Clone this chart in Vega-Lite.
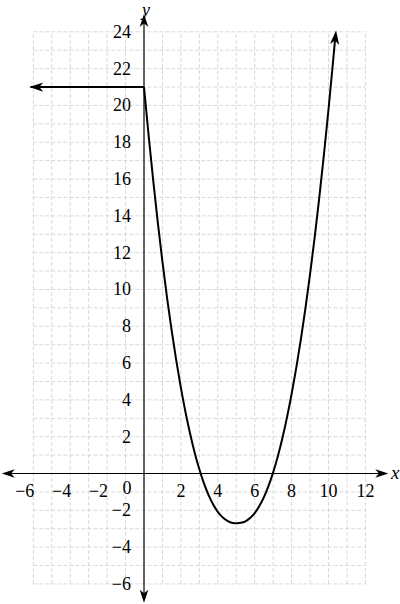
{
  "$schema": "https://vega.github.io/schema/vega-lite/v6.json",
  "width": 400,
  "height": 604,
  "padding": 0,
  "autosize": "none",
  "background": "white",
  "config": {"view": {"stroke": null}, "text": {"font": "Liberation Serif, Times New Roman, serif"}},
  "datasets": {
    "one": [{}],
    "gx": [{"v":-6},{"v":-5},{"v":-4},{"v":-3},{"v":-2},{"v":-1},{"v":0},{"v":1},{"v":2},{"v":3},{"v":4},{"v":5},{"v":6},{"v":7},{"v":8},{"v":9},{"v":10},{"v":11},{"v":12}],
    "gy": [{"v":-6},{"v":-5},{"v":-4},{"v":-3},{"v":-2},{"v":-1},{"v":0},{"v":1},{"v":2},{"v":3},{"v":4},{"v":5},{"v":6},{"v":7},{"v":8},{"v":9},{"v":10},{"v":11},{"v":12},{"v":13},{"v":14},{"v":15},{"v":16},{"v":17},{"v":18},{"v":19},{"v":20},{"v":21},{"v":22},{"v":23},{"v":24}],
    "flat": [{"x":-6.15,"y":21},{"x":0,"y":21}],
    "curve": [
      {"x":0,"y":21},{"x":0.25,"y":18.37},{"x":0.5,"y":15.91},{"x":0.75,"y":13.62},{"x":1,"y":11.5},{"x":1.25,"y":9.55},{"x":1.5,"y":7.76},{"x":1.75,"y":6.13},{"x":2,"y":4.65},{"x":2.25,"y":3.33},{"x":2.5,"y":2.16},{"x":2.75,"y":1.12},{"x":3,"y":0.23},{"x":3.25,"y":-0.54},{"x":3.5,"y":-1.17},{"x":3.75,"y":-1.68},{"x":4,"y":-2.08},{"x":4.25,"y":-2.37},{"x":4.5,"y":-2.56},{"x":4.75,"y":-2.67},{"x":5.05,"y":-2.7},{"x":5.25,"y":-2.68},{"x":5.5,"y":-2.6},{"x":5.75,"y":-2.42},{"x":6,"y":-2.15},{"x":6.25,"y":-1.77},{"x":6.5,"y":-1.28},{"x":6.75,"y":-0.67},{"x":7,"y":0.06},{"x":7.25,"y":0.93},{"x":7.5,"y":1.92},{"x":7.75,"y":3.05},{"x":8,"y":4.32},{"x":8.25,"y":5.73},{"x":8.5,"y":7.28},{"x":8.75,"y":8.98},{"x":9,"y":10.83},{"x":9.25,"y":12.83},{"x":9.5,"y":14.99},{"x":9.75,"y":17.31},{"x":10,"y":19.78},{"x":10.25,"y":22.42},{"x":10.38,"y":23.85}
    ],
    "xpos": [{"v":2,"label":"2"},{"v":4,"label":"4"},{"v":6,"label":"6"},{"v":8,"label":"8"},{"v":10,"label":"10"},{"v":12,"label":"12"}],
    "xneg": [{"v":-6,"label":"−6"},{"v":-4,"label":"−4"},{"v":-2,"label":"−2"}],
    "ylab": [{"v":24,"label":"24"},{"v":22,"label":"22"},{"v":20,"label":"20"},{"v":18,"label":"18"},{"v":16,"label":"16"},{"v":14,"label":"14"},{"v":12,"label":"12"},{"v":10,"label":"10"},{"v":8,"label":"8"},{"v":6,"label":"6"},{"v":4,"label":"4"},{"v":2,"label":"2"},{"v":-2,"label":"−2"},{"v":-4,"label":"−4"},{"v":-6,"label":"−6"}]
  },
  "layer": [
    {
      "data": {"name": "gx"},
      "mark": {"type": "rule", "color": "#d9d9d9", "strokeWidth": 1, "strokeDash": [4, 2]},
      "encoding": {
        "x": {"field": "v", "type": "quantitative", "scale": {"domain": [-7.805, 13.875], "nice": false, "zero": false}, "axis": null},
        "y": {"datum": -6, "type": "quantitative", "scale": {"domain": [-7.09, 25.73], "nice": false, "zero": false}, "axis": null},
        "y2": {"datum": 24}
      }
    },
    {
      "data": {"name": "gy"},
      "mark": {"type": "rule", "color": "#d9d9d9", "strokeWidth": 1, "strokeDash": [4, 2]},
      "encoding": {
        "y": {"field": "v", "type": "quantitative", "scale": {"domain": [-7.09, 25.73], "nice": false, "zero": false}, "axis": null},
        "x": {"datum": -6, "type": "quantitative", "scale": {"domain": [-7.805, 13.875], "nice": false, "zero": false}, "axis": null},
        "x2": {"datum": 12}
      }
    },
    {
      "data": {"name": "one"},
      "mark": {"type": "rule", "color": "black", "strokeWidth": 1.2},
      "encoding": {
        "y": {"datum": 0, "type": "quantitative", "scale": {"domain": [-7.09, 25.73], "nice": false, "zero": false}, "axis": null},
        "x": {"datum": -7.6, "type": "quantitative", "scale": {"domain": [-7.805, 13.875], "nice": false, "zero": false}, "axis": null},
        "x2": {"datum": 13.1}
      }
    },
    {
      "data": {"name": "one"},
      "mark": {"type": "rule", "color": "black", "strokeWidth": 1.2},
      "encoding": {
        "x": {"datum": 0, "type": "quantitative", "scale": {"domain": [-7.805, 13.875], "nice": false, "zero": false}, "axis": null},
        "y": {"datum": -6.9, "type": "quantitative", "scale": {"domain": [-7.09, 25.73], "nice": false, "zero": false}, "axis": null},
        "y2": {"datum": 24.8}
      }
    },
    {
      "data": {"name": "flat"},
      "mark": {"type": "line", "color": "black", "strokeWidth": 2},
      "encoding": {
        "x": {"field": "x", "type": "quantitative", "scale": {"domain": [-7.805, 13.875], "nice": false, "zero": false}, "axis": null},
        "y": {"field": "y", "type": "quantitative", "scale": {"domain": [-7.09, 25.73], "nice": false, "zero": false}, "axis": null}
      }
    },
    {
      "data": {"name": "curve"},
      "mark": {"type": "line", "color": "black", "strokeWidth": 2, "interpolate": "monotone"},
      "encoding": {
        "x": {"field": "x", "type": "quantitative", "scale": {"domain": [-7.805, 13.875], "nice": false, "zero": false}, "axis": null},
        "y": {"field": "y", "type": "quantitative", "scale": {"domain": [-7.09, 25.73], "nice": false, "zero": false}, "axis": null}
      }
    },
    {
      "data": {"name": "one"},
      "mark": {"type": "point", "shape": "M0,0L0.33,1L0,0.72L-0.33,1Z", "size": 676, "filled": true, "color": "black", "opacity": 1, "angle": 0},
      "encoding": {
        "x": {"datum": 0, "type": "quantitative", "scale": {"domain": [-7.805, 13.875], "nice": false, "zero": false}, "axis": null},
        "y": {"datum": 24.97, "type": "quantitative", "scale": {"domain": [-7.09, 25.73], "nice": false, "zero": false}, "axis": null}
      }
    },
    {
      "data": {"name": "one"},
      "mark": {"type": "point", "shape": "M0,0L0.33,1L0,0.72L-0.33,1Z", "size": 676, "filled": true, "color": "black", "opacity": 1, "angle": 180},
      "encoding": {
        "x": {"datum": 0, "type": "quantitative", "scale": {"domain": [-7.805, 13.875], "nice": false, "zero": false}, "axis": null},
        "y": {"datum": -7.02, "type": "quantitative", "scale": {"domain": [-7.09, 25.73], "nice": false, "zero": false}, "axis": null}
      }
    },
    {
      "data": {"name": "one"},
      "mark": {"type": "point", "shape": "M0,0L0.33,1L0,0.72L-0.33,1Z", "size": 676, "filled": true, "color": "black", "opacity": 1, "angle": 270},
      "encoding": {
        "x": {"datum": -7.71, "type": "quantitative", "scale": {"domain": [-7.805, 13.875], "nice": false, "zero": false}, "axis": null},
        "y": {"datum": 0, "type": "quantitative", "scale": {"domain": [-7.09, 25.73], "nice": false, "zero": false}, "axis": null}
      }
    },
    {
      "data": {"name": "one"},
      "mark": {"type": "point", "shape": "M0,0L0.33,1L0,0.72L-0.33,1Z", "size": 676, "filled": true, "color": "black", "opacity": 1, "angle": 90},
      "encoding": {
        "x": {"datum": 13.24, "type": "quantitative", "scale": {"domain": [-7.805, 13.875], "nice": false, "zero": false}, "axis": null},
        "y": {"datum": 0, "type": "quantitative", "scale": {"domain": [-7.09, 25.73], "nice": false, "zero": false}, "axis": null}
      }
    },
    {
      "data": {"name": "one"},
      "mark": {"type": "point", "shape": "M0,0L0.33,1L0,0.72L-0.33,1Z", "size": 784, "filled": true, "color": "black", "opacity": 1, "angle": 270},
      "encoding": {
        "x": {"datum": -6.22, "type": "quantitative", "scale": {"domain": [-7.805, 13.875], "nice": false, "zero": false}, "axis": null},
        "y": {"datum": 21, "type": "quantitative", "scale": {"domain": [-7.09, 25.73], "nice": false, "zero": false}, "axis": null}
      }
    },
    {
      "data": {"name": "one"},
      "mark": {"type": "point", "shape": "M0,0L0.33,1L0,0.72L-0.33,1Z", "size": 784, "filled": true, "color": "black", "opacity": 1, "angle": 6},
      "encoding": {
        "x": {"datum": 10.41, "type": "quantitative", "scale": {"domain": [-7.805, 13.875], "nice": false, "zero": false}, "axis": null},
        "y": {"datum": 24.07, "type": "quantitative", "scale": {"domain": [-7.09, 25.73], "nice": false, "zero": false}, "axis": null}
      }
    },
    {
      "data": {"name": "xpos"},
      "mark": {"type": "text", "font": "Liberation Serif, Times New Roman, serif", "fontSize": 18, "color": "black", "align": "center", "baseline": "middle", "dy": 18},
      "encoding": {
        "x": {"field": "v", "type": "quantitative", "scale": {"domain": [-7.805, 13.875], "nice": false, "zero": false}, "axis": null},
        "y": {"datum": 0, "type": "quantitative", "scale": {"domain": [-7.09, 25.73], "nice": false, "zero": false}, "axis": null},
        "text": {"field": "label"}
      }
    },
    {
      "data": {"name": "xneg"},
      "mark": {"type": "text", "font": "Liberation Serif, Times New Roman, serif", "fontSize": 18, "color": "black", "align": "right", "baseline": "middle", "dy": 18, "dx": 1},
      "encoding": {
        "x": {"field": "v", "type": "quantitative", "scale": {"domain": [-7.805, 13.875], "nice": false, "zero": false}, "axis": null},
        "y": {"datum": 0, "type": "quantitative", "scale": {"domain": [-7.09, 25.73], "nice": false, "zero": false}, "axis": null},
        "text": {"field": "label"}
      }
    },
    {
      "data": {"name": "ylab"},
      "mark": {"type": "text", "font": "Liberation Serif, Times New Roman, serif", "fontSize": 18, "color": "black", "align": "right", "baseline": "middle", "dx": -13, "dy": 1},
      "encoding": {
        "y": {"field": "v", "type": "quantitative", "scale": {"domain": [-7.09, 25.73], "nice": false, "zero": false}, "axis": null},
        "x": {"datum": 0, "type": "quantitative", "scale": {"domain": [-7.805, 13.875], "nice": false, "zero": false}, "axis": null},
        "text": {"field": "label"}
      }
    },
    {
      "data": {"name": "one"},
      "mark": {"type": "text", "text": "0", "font": "Liberation Serif, Times New Roman, serif", "fontSize": 18, "color": "black", "align": "center", "baseline": "middle", "dx": -17, "dy": 15},
      "encoding": {
        "x": {"datum": 0, "type": "quantitative", "scale": {"domain": [-7.805, 13.875], "nice": false, "zero": false}, "axis": null},
        "y": {"datum": 0, "type": "quantitative", "scale": {"domain": [-7.09, 25.73], "nice": false, "zero": false}, "axis": null}
      }
    },
    {
      "data": {"name": "one"},
      "mark": {"type": "text", "text": "x", "font": "Liberation Serif, Times New Roman, serif", "fontStyle": "italic", "fontSize": 19, "color": "black", "align": "center", "baseline": "middle", "dy": -1},
      "encoding": {
        "x": {"datum": 13.62, "type": "quantitative", "scale": {"domain": [-7.805, 13.875], "nice": false, "zero": false}, "axis": null},
        "y": {"datum": 0, "type": "quantitative", "scale": {"domain": [-7.09, 25.73], "nice": false, "zero": false}, "axis": null}
      }
    },
    {
      "data": {"name": "one"},
      "mark": {"type": "text", "text": "y", "font": "Liberation Serif, Times New Roman, serif", "fontStyle": "italic", "fontSize": 18, "color": "black", "align": "center", "baseline": "top", "dx": 2, "dy": 2},
      "encoding": {
        "x": {"datum": 0, "type": "quantitative", "scale": {"domain": [-7.805, 13.875], "nice": false, "zero": false}, "axis": null},
        "y": {"datum": 25.73, "type": "quantitative", "scale": {"domain": [-7.09, 25.73], "nice": false, "zero": false}, "axis": null}
      }
    }
  ]
}
